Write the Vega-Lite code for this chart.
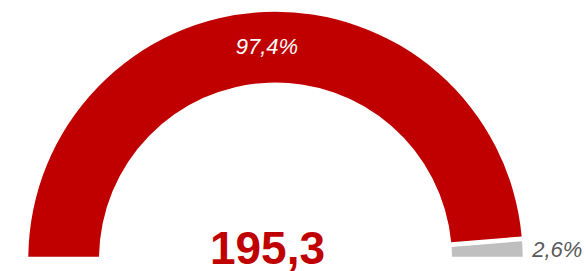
{
  "$schema": "https://vega.github.io/schema/vega-lite/v6.json",
  "width": 551,
  "height": 259,
  "padding": {"left": 0, "top": 0, "right": 37, "bottom": 12},
  "autosize": {"type": "none"},
  "background": "white",
  "config": {
    "view": {"stroke": null},
    "locale": {"number": {"decimal": ",", "thousands": ".", "grouping": [3], "currency": ["", " €"]}}
  },
  "layer": [
    {
      "data": {"values": [
        {"cat": "A", "share": 0.974},
        {"cat": "B", "share": 0.026}
      ]},
      "encoding": {
        "theta": {"field": "share", "type": "quantitative", "stack": true, "scale": {"domain": [0, 1], "range": [-1.5707963, 1.5707963]}},
        "order": {"field": "cat", "type": "nominal", "sort": "ascending"}
      },
      "layer": [
        {
          "mark": {"type": "arc", "outerRadius": 247.2, "innerRadius": 176.5, "padAngle": 0.0155, "y": {"expr": "height"}},
          "encoding": {
            "color": {"field": "cat", "type": "nominal", "scale": {"domain": ["A", "B"], "range": ["#C00000", "#BFBFBF"]}, "legend": null}
          }
        },
        {
          "mark": {"type": "text", "radius": 212, "y": {"expr": "height"}, "baseline": "middle", "align": "center", "font": "Liberation Sans", "fontSize": 22, "fontStyle": "italic", "fill": "white"},
          "encoding": {
            "text": {"field": "share", "type": "quantitative", "format": ".1%"},
            "opacity": {"condition": {"test": "datum.cat === 'A'", "value": 1}, "value": 0}
          }
        },
        {
          "mark": {"type": "text", "radius": 282, "y": {"expr": "height"}, "dy": 3, "baseline": "middle", "align": "center", "font": "Liberation Sans", "fontSize": 22, "fontStyle": "italic", "fill": "#595959"},
          "encoding": {
            "text": {"field": "share", "type": "quantitative", "format": ".1%"},
            "opacity": {"condition": {"test": "datum.cat === 'B'", "value": 1}, "value": 0}
          }
        }
      ]
    },
    {
      "data": {"values": [{"total": 195.3}]},
      "mark": {"type": "text", "y": {"expr": "height"}, "dx": -8, "dy": 5, "baseline": "alphabetic", "align": "center", "font": "Liberation Sans", "fontSize": 46, "fontWeight": "bold", "fill": "#C00000"},
      "encoding": {
        "text": {"field": "total", "type": "quantitative", "format": ".1f"}
      }
    }
  ]
}
